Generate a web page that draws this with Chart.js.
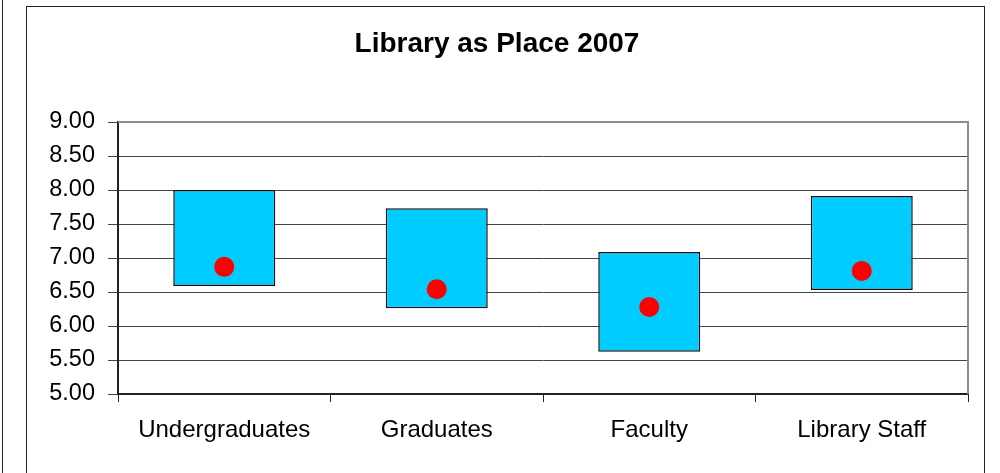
<!DOCTYPE html>
<html>
<head>
<meta charset="utf-8">
<script src="https://cdn.jsdelivr.net/npm/chart.js@4/dist/chart.umd.min.js"></script>
<style>
  html, body { margin:0; padding:0; background:#fff; }
  body { width:1000px; height:473px; position:relative; overflow:hidden; }
  #prevEdge { position:absolute; left:2px; top:0; width:1px; height:473px; background:#222; }
  #frame { position:absolute; left:26px; top:6px; width:959px; height:480px; border:1px solid #222; box-sizing:border-box; }
  #wrap { position:absolute; left:0; top:0; width:1000px; height:473px; }
</style>
</head>
<body>
<div id="prevEdge"></div>
<div id="frame"></div>
<div id="wrap"><canvas id="Grafica"></canvas></div>
<script>
// categories and values
const groups = ['Undergraduates','Graduates','Faculty','Library Staff'];
const minimum = [6.59, 6.26, 5.62, 6.53];
const desired = [8.00, 7.73, 7.09, 7.91];
const perceived = [6.87, 6.54, 6.28, 6.81];
const yTicks = [5.0, 5.5, 6.0, 6.5, 7.0, 7.5, 8.0, 8.5, 9.0];

const fontName = "'Liberation Sans', Arial, sans-serif";

function rangeData(){
    let out = [];
    for (let i=0; i<groups.length; i++){
        out.push([minimum[i], desired[i]]);
    }
    return out;
}

// gray border round the plot area, like excel
const plotBorder = {
    id:'plotBorder',
    beforeDatasetsDraw(chart){
        let a = chart.chartArea;
        let ctx = chart.ctx;
        ctx.save();
        ctx.strokeStyle = '#8c8c8c';
        ctx.lineWidth = 2;
        ctx.beginPath();
        ctx.moveTo(a.left, a.top);
        ctx.lineTo(a.right, a.top);
        ctx.lineTo(a.right, a.bottom);
        ctx.stroke();
        ctx.restore();
    }
};

let config = {
    data: {
        labels: groups,
        datasets: [
            {
                type:'line',
                label:'Perceived',
                data: perceived,
                showLine:false,
                pointRadius:10,
                pointHoverRadius:10,
                pointBackgroundColor:'#ff0000',
                pointBorderWidth:0,
                order:0
            },
            {
                type:'bar',
                label:'Range',
                data: rangeData(),
                backgroundColor:'#00ccff',
                borderColor:'#111',
                borderWidth:1.5,
                borderSkipped:false,
                categoryPercentage:1,
                barPercentage:0.48,
                order:1
            }
        ]
    },
    options: {
        responsive:true,
        maintainAspectRatio:false,
        animation:false,
        layout:{ padding:{ left:26, right:32, top:6, bottom:0 } },
        plugins:{
            legend:{ display:false },
            tooltip:{ enabled:false },
            title:{
                display:true,
                text:'Library as Place 2007',
                color:'#000',
                font:{ family:fontName, size:28, weight:'bold', lineHeight:1.2 },
                padding:{ top:21, bottom:61.4 }
            }
        },
        scales:{
            x:{
                offset:true,
                grid:{ offset:true, drawOnChartArea:false, drawTicks:true, tickLength:8, color:'#222', lineWidth:1 },
                border:{ display:true, color:'#222', width:2 },
                ticks:{ color:'#000', padding:14, font:{ family:fontName, size:24 }, maxRotation:0 },
                afterFit(scale){ scale.height = 79; }
            },
            y:{
                min:5, max:9,
                afterBuildTicks(scale){ scale.ticks = yTicks.map(v => ({value:v})); },
                grid:{ color:'#444', lineWidth:1, tickLength:10 },
                border:{ display:true, color:'#222', width:2 },
                ticks:{ color:'#000', padding:13, font:{ family:fontName, size:23.5 },
                        callback:(v) => Number(v).toFixed(2) },
                afterFit(scale){ scale.width = 92; }
            }
        }
    },
    plugins:[plotBorder]
};

let ctx = document.getElementById('Grafica').getContext('2d');
new Chart(ctx, config);
</script>
</body>
</html>
